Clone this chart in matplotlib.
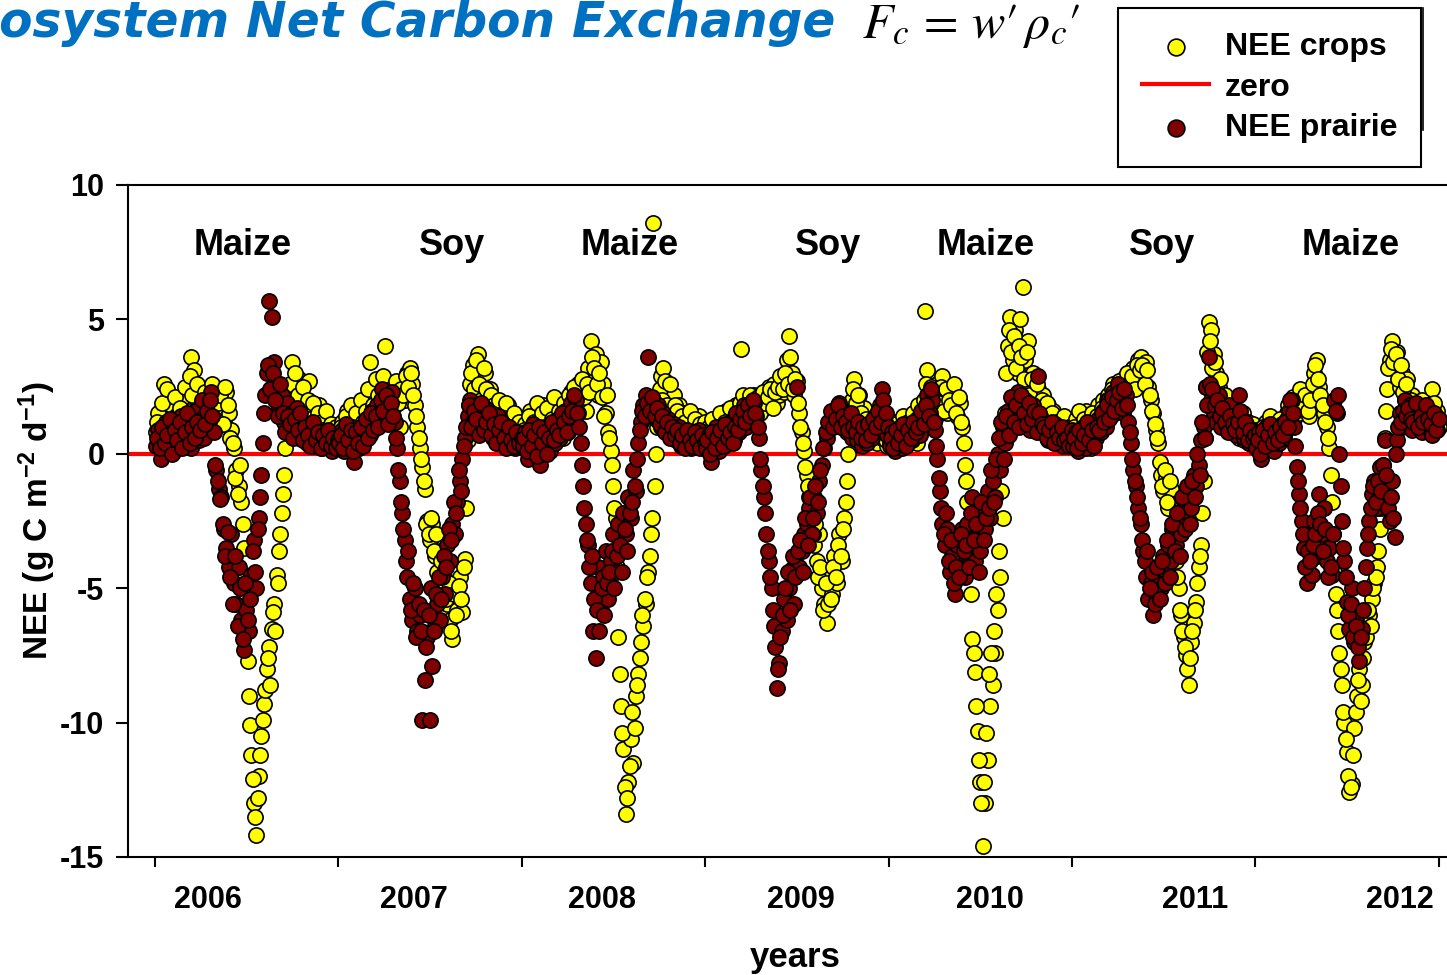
import numpy as np
import matplotlib.pyplot as plt
from matplotlib.lines import Line2D

plt.rcParams['font.family'] = ['Liberation Sans', 'DejaVu Sans']
plt.rcParams['axes.unicode_minus'] = False

# NEE (g C m-2 d-1) read every 5 days: "_a" lists start on day 2, "_b" lists on day 4.5
years = [2006, 2007, 2008, 2009, 2010, 2011, 2012]

crops_2006_a = [
    0.8, 1.5, 0.4, 2.6, 1.1, 0.6, 1.8, 0.9, 1.4, 0.5,
    2.0, 1.2, 0.7, 1.6, 3.6, 3.1, 1.0, 2.2, 0.6, 1.3,
    1.8, 2.4, 1.0, 2.2, 2.4, 1.6, 2.0, 1.2, 2.3, 1.5,
    0.9, 0.2, -0.6, -1.2, -1.8, -3.5, -6.5, -9.0, -11.2, -13.0,
    -14.2, -12.0, -10.5, -9.3, -8.0, -7.2, -6.5, -5.6, -4.5, -3.6,
    -2.2, -0.8, 0.8, 2.0, 3.4, 2.6, 1.8, 2.8, 1.2, 2.0,
    1.5, 2.7, 0.9, 1.6, 1.1, 1.8, 0.7, 1.3, 0.6, 1.0,
    0.5, 0.8, 0.4]
crops_2006_b = [
    1.2, 0.5, 1.9, 0.9, 2.4, 0.7, 1.3, 2.1, 0.4, 1.7,
    1.0, 2.5, 1.4, 2.9, 2.2, 1.6, 2.6, 0.9, 1.9, 2.3,
    1.4, 2.0, 2.6, 1.7, 1.9, 2.2, 1.1, 2.5, 1.8, 0.6,
    0.4, -0.9, -1.5, -0.4, -2.6, -4.6, -7.7, -10.1, -12.1, -13.5,
    -12.8, -11.2, -9.9, -8.8, -7.6, -8.6, -5.9, -6.6, -4.8, -3.0,
    -1.5, 0.2, 1.2, 2.6, 1.9, 3.0, 2.2, 1.4, 2.5, 1.0,
    2.0, 1.3, 1.9, 0.8, 1.5, 1.2, 0.9, 1.6, 0.5, 1.1,
    0.7, 1.0, 0.6]
prairie_2006_a = [
    0.3, 0.9, -0.2, 0.6, 1.2, 0.4, 0.8, 0.1, 1.0, 0.5,
    1.4, 0.3, 0.7, 1.1, 0.2, 0.9, 1.6, 0.5, 1.3, 0.6,
    1.9, 1.2, 2.3, 0.8, -0.6, -1.3, -1.6, -2.8, -3.5, -4.2,
    -3.0, -4.8, -5.6, -4.2, -6.2, -7.3, -5.8, -6.6, -4.5, -3.2,
    -5.0, -2.4, -0.8, 1.5, 3.0, 5.7, 5.1, 3.4, 2.6, 1.7,
    2.2, 1.2, 1.9, 0.8, 1.5, 1.0, 1.7, 0.6, 1.2, 0.9,
    0.4, 1.1, 0.7, 0.3, 0.9, 0.5, 0.2, 0.8, 0.4, 0.6,
    0.1, 0.5, 0.3]
prairie_2006_b = [
    0.6, 0.2, 1.0, 0.4, 0.7, 1.3, 0.0, 0.9, 0.5, 1.2,
    0.2, 0.8, 1.5, 0.4, 1.0, 0.6, 1.2, 0.9, 2.0, 1.1,
    1.6, 2.0, 1.4, -0.4, -1.0, -1.7, -2.6, -3.8, -2.9, -4.6,
    -5.6, -3.8, -6.4, -5.0, -6.9, -4.8, -6.2, -5.4, -3.6, -4.4,
    -2.8, -1.6, 0.4, 2.2, 3.3, 2.4, 3.0, 2.0, 1.4, 2.6,
    1.5, 0.8, 1.4, 1.1, 0.6, 1.3, 0.9, 1.5, 0.5, 1.0,
    0.7, 0.3, 1.2, 0.5, 0.8, 0.2, 0.7, 0.4, 0.9, 0.3,
    0.6, 0.2, 0.5]

crops_2007_a = [
    0.6, 1.2, 0.3, 1.6, 0.8, 0.4, 1.1, 0.2, 0.9, 1.5,
    0.7, 1.9, 3.4, 1.3, 2.1, 1.6, 2.4, 1.2, 4.0, 2.0,
    1.4, 2.6, 1.8, 2.3, 1.0, 2.7, 2.0, 3.0, 3.2, 2.6,
    1.8, 1.0, 0.2, -0.5, -1.3, -2.5, -3.2, -2.6, -3.8, -4.4,
    -3.6, -5.0, -4.2, -5.6, -6.2, -6.9, -5.4, -5.8, -4.6, -5.9,
    -3.9, 0.5, 2.6, 3.3, 2.0, 3.7, 2.8, 2.2, 3.0, 1.8,
    2.4, 1.5, 2.0, 1.2, 1.7, 0.9, 1.4, 1.8, 0.8, 1.2,
    0.6, 1.0, 0.5]
crops_2007_b = [
    1.0, 0.5, 1.4, 0.9, 1.8, 0.6, 1.5, 1.0, 2.0, 1.2,
    1.6, 2.4, 1.1, 1.8, 2.8, 2.2, 1.7, 2.9, 2.1, 1.6,
    2.2, 1.3, 2.7, 1.9, 2.4, 2.2, 2.9, 2.5, 3.0, 2.2,
    1.4, 0.6, -0.2, -1.0, -2.6, -3.0, -2.4, -3.6, -3.0, -4.8,
    -4.0, -4.6, -5.4, -4.8, -6.6, -5.2, -6.0, -4.9, -5.4, -4.2,
    -2.0, 1.8, 3.0, 2.4, 3.5, 2.6, 2.0, 3.2, 2.4, 1.5,
    2.2, 1.8, 1.1, 2.0, 1.4, 1.1, 1.9, 1.3, 0.9, 1.5,
    0.7, 1.2, 0.8]
prairie_2007_a = [
    0.4, 0.9, 0.1, 0.7, 0.3, 1.0, -0.3, 0.6, 0.2, 0.8,
    0.5, 1.2, 0.7, 1.6, 1.0, 1.8, 1.3, 2.4, 1.5, 2.0,
    1.6, 2.3, 1.2, 0.2, -1.0, -2.2, -3.2, -4.6, -5.4, -6.2,
    -5.0, -6.6, -6.0, -9.9, -8.4, -6.8, -9.9, -7.9, -6.4, -5.6,
    -6.2, -4.6, -5.2, -3.4, -4.0, -2.6, -3.0, -1.8, -1.0, -0.2,
    0.6, 1.4, 2.0, 1.2, 1.8, 0.9, 1.5, 1.1, 1.7, 0.8,
    1.3, 0.6, 1.0, 1.4, 0.5, 0.9, 0.3, 0.8, 0.4, 0.7,
    0.2, 0.6, 0.3]
prairie_2007_b = [
    0.7, 0.2, 1.1, 0.5, 0.9, 0.1, 0.8, 0.4, 1.0, 0.3,
    1.3, 0.6, 1.5, 0.9, 1.4, 1.0, 2.0, 1.6, 2.2, 1.1,
    1.9, 1.4, 0.6, -0.6, -1.8, -2.8, -4.0, -3.6, -5.8, -4.8,
    -6.8, -5.6, -6.6, -5.8, -7.2, -6.0, -5.0, -6.6, -5.2, -4.6,
    -5.4, -3.8, -4.2, -2.8, -3.2, -1.8, -2.2, -0.6, -1.4, 0.3,
    1.0, 1.8, 1.0, 1.6, 1.3, 0.7, 1.9, 0.9, 1.2, 1.5,
    0.7, 1.1, 0.4, 0.9, 1.2, 0.6, 0.2, 1.0, 0.5, 0.3,
    0.8, 0.4, 0.6]

crops_2008_a = [
    0.5, 1.1, 0.2, 1.6, 0.8, 0.3, 1.3, 0.6, 1.8, 0.4,
    1.0, 0.7, 1.5, 0.9, 2.0, 1.2, 0.6, 1.7, 1.1, 2.3,
    1.4, 2.0, 2.6, 1.8, 2.4, 1.6, 3.2, 4.2, 2.8, 3.7,
    2.2, 3.4, 2.6, 1.5, 0.8, 0.1, -1.2, -2.4, -6.8, -9.4,
    -11.0, -13.4, -12.2, -10.6, -11.5, -9.0, -8.2, -7.0, -6.4, -5.6,
    -4.4, -3.0, 8.6, 0.0, 1.8, 2.9, 3.2, 2.4, 2.0, 1.6,
    2.2, 1.2, 1.8, 0.9, 1.5, 0.7, 1.2, 0.5, 1.0, 0.6,
    1.4, 0.4, 0.8]
crops_2008_b = [
    0.9, 0.4, 1.4, 0.7, 1.2, 1.9, 0.5, 1.5, 1.0, 1.7,
    0.6, 1.3, 2.1, 1.1, 1.6, 0.8, 1.9, 1.4, 2.2, 1.7,
    2.5, 1.5, 2.0, 2.8, 2.1, 2.6, 2.3, 3.6, 3.2, 2.6,
    3.0, 2.1, 1.4, 2.2, 0.6, -0.4, -2.0, -4.2, -8.2, -10.4,
    -12.4, -12.8, -11.6, -9.6, -10.2, -8.6, -7.6, -6.0, -5.4, -4.6,
    -3.8, -2.4, -1.2, 1.0, 2.4, 2.0, 2.7, 1.8, 2.6, 1.4,
    1.8, 1.6, 0.9, 1.4, 1.2, 0.8, 1.6, 0.9, 1.3, 0.4,
    1.1, 0.8, 1.2]
prairie_2008_a = [
    0.3, 0.8, -0.2, 0.5, 1.1, 0.2, 0.7, -0.4, 0.6, 0.3,
    1.0, 0.1, 0.8, 0.4, 1.3, 0.6, 1.0, 1.6, 0.8, 1.9,
    1.2, 2.0, 1.5, 0.4, -1.2, -2.6, -3.4, -4.8, -6.6, -7.6,
    -4.2, -5.8, -4.6, -3.6, -5.4, -4.0, -3.0, -4.4, -2.6, -3.6,
    -2.2, -3.0, -1.6, -2.4, -0.6, -1.4, 0.4, 1.2, 1.8, 2.2,
    3.6, 1.6, 2.0, 1.3, 1.8, 1.0, 1.5, 0.9, 1.3, 0.7,
    1.1, 0.5, 1.0, 0.3, 0.8, 0.4, 0.7, 0.2, 0.6, 0.3,
    0.9, 0.4, 0.6]
prairie_2008_b = [
    0.6, 0.1, 0.9, 0.3, 0.7, -0.1, 1.0, 0.4, 0.8, 0.0,
    0.6, 1.2, 0.5, 0.9, 0.7, 1.5, 1.2, 0.8, 1.4, 1.6,
    2.2, 1.5, 1.0, -0.4, -2.0, -3.2, -4.2, -3.8, -5.4, -5.8,
    -6.6, -5.0, -6.0, -4.8, -4.4, -3.6, -5.0, -3.8, -3.4, -4.4,
    -2.8, -3.6, -2.2, -1.8, -1.2, -0.2, 0.9, 1.6, 1.4, 1.9,
    1.6, 2.1, 1.4, 1.7, 1.1, 1.4, 0.8, 1.2, 0.6, 1.0,
    0.7, 0.9, 0.4, 0.7, 0.2, 0.9, 0.5, 0.3, 0.8, 0.5,
    0.2, 0.7, 0.4]

crops_2009_a = [
    0.5, 1.0, 0.2, 1.3, 0.7, 0.3, 1.1, 0.6, 1.6, 0.9,
    1.4, 0.5, 1.8, 1.2, 3.9, 1.5, 2.0, 1.2, 1.8, 2.2,
    1.4, 2.0, 1.6, 2.3, 1.8, 2.5, 2.0, 2.6, 1.9, 2.2,
    2.8, 2.3, 3.5, 4.4, 3.0, 2.2, 2.7, 1.5, 0.8, 0.1,
    -0.8, -1.6, -2.6, -3.4, -4.0, -3.0, -5.0, -5.6, -6.3, -4.6,
    -5.2, -3.8, -4.8, -3.0, -4.0, -2.4, -1.0, 1.0, 2.0, 2.8,
    1.6, 2.2, 1.2, 1.7, 0.8, 1.3, 0.5, 1.0, 0.4, 1.2,
    0.6, 0.9, 0.3]
crops_2009_b = [
    0.8, 0.4, 1.3, 0.6, 1.0, 1.5, 0.7, 1.2, 0.9, 1.7,
    1.1, 1.4, 0.8, 1.9, 2.2, 1.8, 1.4, 2.2, 1.6, 1.9,
    2.1, 1.5, 2.3, 1.9, 2.1, 2.4, 1.7, 2.3, 2.5, 2.9,
    2.4, 3.0, 2.6, 3.6, 2.4, 2.8, 1.9, 1.0, 0.4, -0.5,
    -1.2, -2.2, -3.0, -2.6, -4.6, -4.2, -5.8, -4.8, -5.6, -5.4,
    -4.2, -4.6, -3.4, -3.8, -2.8, -1.8, 0.0, 1.6, 2.4, 1.9,
    2.2, 1.5, 1.0, 1.3, 1.1, 0.7, 1.0, 0.8, 1.4, 0.7,
    1.0, 0.5, 0.8]
prairie_2009_a = [
    0.2, 0.7, -0.3, 0.5, 1.0, 0.1, 0.6, 0.3, 0.9, 0.4,
    1.2, 0.6, 1.5, 0.8, 1.3, 1.8, 1.0, 1.6, 1.2, 1.9,
    1.4, 0.6, -0.6, -1.6, -3.0, -4.0, -5.0, -6.4, -8.7, -7.8,
    -6.6, -5.4, -6.2, -5.0, -4.3, -5.6, 2.5, -4.2, -3.6, -3.0,
    -2.6, -2.0, -3.0, -1.6, -2.2, -1.0, -0.4, 0.2, 0.6, 1.0,
    1.4, 1.6, 1.2, 1.9, 1.0, 1.5, 0.8, 1.3, 0.6, 1.1,
    0.5, 0.9, 0.3, 0.8, 0.4, 1.0, 0.6, 1.4, 0.9, 1.8,
    2.4, 1.2, 0.7]
prairie_2009_b = [
    0.5, 0.0, 0.8, 0.2, 0.6, 0.9, 0.3, 1.1, 0.6, 0.8,
    0.4, 1.0, 0.9, 1.3, 1.6, 1.2, 1.8, 1.4, 2.0, 1.5,
    1.0, -0.2, -1.2, -2.2, -3.6, -4.6, -5.8, -7.2, -8.0, -6.8,
    -6.0, -5.0, -4.4, -5.8, -3.8, -4.6, -3.6, -3.2, -4.4, -2.4,
    -3.4, -1.6, -2.4, -1.2, -1.8, -0.6, 0.2, 0.8, 1.2, 1.6,
    1.0, 1.3, 1.8, 1.0, 1.4, 1.2, 0.9, 1.5, 1.0, 0.8,
    1.2, 0.6, 1.0, 0.5, 1.1, 0.7, 1.3, 1.0, 1.6, 1.2,
    2.0, 1.5, 1.0]

crops_2010_a = [
    0.4, 0.9, 0.2, 1.2, 0.6, 0.3, 1.0, 0.5, 1.4, 0.8,
    1.1, 0.4, 1.6, 1.2, 5.3, 3.1, 1.6, 2.2, 1.3, 2.6,
    1.8, 2.9, 2.0, 1.5, 2.4, 1.7, 2.2, 1.4, 1.9, 1.0,
    -0.4, -1.8, -4.0, -6.9, -8.1, -10.3, -12.2, -14.6, -13.0, -11.4,
    -9.4, -8.6, -7.4, -5.8, -4.6, -2.4, 1.5, 4.0, 5.1, 3.5,
    4.6, 3.0, 5.0, 6.2, 3.5, 4.2, 2.5, 3.0, 2.0, 2.4,
    1.6, 2.2, 1.3, 1.8, 1.0, 1.6, 0.8, 1.3, 0.6, 1.1,
    0.5, 0.9, 1.2]
crops_2010_b = [
    0.7, 0.3, 1.1, 0.5, 0.9, 1.4, 0.6, 1.2, 0.9, 1.5,
    1.0, 1.8, 1.3, 2.0, 2.6, 2.0, 2.5, 1.7, 2.3, 1.9,
    2.5, 1.6, 2.4, 2.0, 1.8, 2.6, 1.5, 2.1, 1.2, 0.4,
    -1.0, -2.8, -5.2, -7.4, -9.4, -11.4, -13.0, -12.2, -10.4, -8.2,
    -7.4, -6.6, -5.2, -3.6, -1.4, 0.6, 3.0, 4.6, 3.8, 4.4,
    3.2, 4.0, 3.6, 2.8, 3.8, 2.2, 2.8, 1.8, 2.6, 1.5,
    2.0, 1.4, 1.9, 1.0, 1.5, 0.7, 1.2, 1.0, 0.8, 1.4,
    0.7, 1.0, 0.6]
prairie_2010_a = [
    0.3, 0.8, 0.1, 0.6, 1.0, 0.2, 0.7, 0.4, 1.1, 0.5,
    0.9, 1.3, 0.7, 1.5, 1.2, 2.2, 1.5, 2.0, 0.9, -0.2,
    -1.4, -2.6, -3.4, -2.8, -4.4, -3.8, -5.2, -3.4, -4.2, -2.8,
    -4.6, -2.6, -3.8, -1.6, -4.0, -3.0, -3.6, -2.0, -2.8, -1.4,
    -2.4, -1.0, -1.6, 0.0, -0.6, 1.0, 0.4, 1.6, 1.0, 2.0,
    1.4, 2.3, 1.7, 1.2, 2.0, 1.5, 0.9, 1.8, 1.2, 2.9,
    1.4, 0.8, 1.2, 0.5, 1.0, 0.6, 1.1, 0.4, 0.9, 0.3,
    0.8, 0.5, 0.7]
prairie_2010_b = [
    0.6, 0.2, 0.9, 0.4, 0.7, 1.1, 0.3, 0.9, 0.6, 1.2,
    0.8, 1.0, 1.6, 1.1, 1.8, 1.4, 2.4, 1.2, 0.3, -0.9,
    -2.0, -3.0, -2.2, -4.0, -3.2, -4.8, -4.2, -4.6, -3.0, -3.6,
    -3.4, -4.2, -2.2, -3.2, -2.6, -4.4, -1.8, -3.2, -2.4, -2.0,
    -0.6, -1.8, -0.2, 0.6, 1.2, -0.2, 1.4, 0.7, 2.1, 1.2,
    1.8, 1.0, 2.2, 1.5, 1.1, 1.9, 1.3, 1.6, 0.8, 1.5,
    1.1, 1.0, 0.6, 0.9, 1.2, 0.4, 0.8, 0.6, 1.0, 0.5,
    0.6, 0.3, 0.9]

crops_2011_a = [
    0.6, 1.3, 0.3, 1.0, 0.5, 1.6, 0.8, 0.2, 1.2, 0.7,
    1.8, 1.1, 2.0, 1.4, 2.2, 1.6, 2.6, 1.9, 2.4, 2.0,
    2.8, 2.2, 3.0, 2.4, 3.2, 2.7, 3.5, 3.6, 3.0, 3.4,
    2.5, 2.0, 1.5, 0.9, 0.4, -0.8, -1.4, -0.9, -2.0, -1.3,
    -3.5, -4.0, -5.0, -6.0, -6.8, -7.5, -8.6, -7.0, -6.3, -5.5,
    -4.2, -3.4, -1.0, 2.5, 4.9, 4.6, 3.7, 3.0, 2.5, 2.0,
    1.6, 1.9, 1.2, 1.6, 0.9, 1.3, 0.6, 1.1, 0.5, 0.9,
    0.4, 0.8, 0.6]
crops_2011_b = [
    1.0, 0.5, 1.6, 0.8, 1.3, 0.4, 1.1, 1.5, 0.6, 1.4,
    1.0, 1.7, 1.3, 2.0, 1.5, 2.4, 1.8, 2.2, 2.7, 2.1,
    2.5, 3.0, 2.6, 2.9, 2.4, 3.3, 3.1, 3.3, 2.6, 3.1,
    2.2, 1.6, 1.1, 0.6, -0.3, -1.2, -0.6, -1.8, -1.0, -2.8,
    -3.8, -4.6, -5.8, -6.6, -7.2, -8.0, -7.6, -6.6, -5.8, -4.8,
    -3.8, -2.2, 0.6, 3.8, 4.2, 3.2, 3.4, 2.4, 2.8, 1.6,
    2.2, 1.4, 1.7, 1.0, 1.4, 1.2, 0.8, 1.5, 0.9, 1.2,
    0.7, 1.1, 0.9]
prairie_2011_a = [
    0.3, 0.8, 0.1, 0.6, 1.0, 0.2, 0.7, 0.4, 1.1, 0.6,
    1.3, 0.8, 1.6, 1.0, 2.0, 1.4, 2.3, 1.7, 2.6, 2.0,
    1.5, 2.2, 1.2, 0.4, -0.6, -1.2, -2.0, -2.6, -3.6, -4.6,
    -5.4, -4.8, -6.0, -5.2, -4.6, -5.0, -3.8, -4.4, -3.4, -4.0,
    -2.8, -3.4, -2.4, -3.0, -1.8, -2.4, -1.4, -2.0, -0.8, -1.2,
    -0.4, 0.5, 1.0, 2.5, 3.6, 2.0, 1.5, 1.2, 2.2, 1.0,
    1.5, 1.1, 1.8, 0.8, 1.4, 0.7, 2.2, 1.0, 0.6, 1.1,
    0.4, 0.8, 0.5]
prairie_2011_b = [
    0.6, 0.2, 0.9, 0.4, 0.7, 1.2, 0.5, 0.9, 0.3, 1.0,
    0.9, 1.5, 1.2, 1.8, 1.3, 2.1, 1.6, 2.0, 2.3, 1.7,
    2.4, 1.8, 0.8, -0.2, -1.0, -1.6, -2.4, -3.2, -4.0, -3.6,
    -5.0, -4.4, -5.6, -4.2, -5.4, -4.0, -4.8, -3.2, -4.6, -2.6,
    -3.6, -2.2, -3.8, -1.6, -2.8, -1.2, -2.6, -1.0, -1.6, 0.0,
    -0.8, 1.2, 0.6, 1.8, 2.6, 2.4, 1.8, 2.0, 1.4, 1.7,
    1.2, 0.8, 1.4, 1.1, 0.9, 1.2, 1.6, 0.8, 1.2, 0.5,
    0.9, 0.6, 0.7]

crops_2012_a = [
    0.3, 0.9, 0.1, 0.7, 1.2, 0.4, 0.8, 0.2, 1.0, 0.5,
    1.3, 0.7, 1.5, 1.0, 1.8, 1.3, 2.0, 1.5, 2.2, 1.7,
    2.0, 1.4, 2.3, 3.0, 3.5, 2.5, 2.0, 1.5, 1.0, 0.2,
    -1.8, -4.4, -5.8, -7.4, -8.6, -10.0, -11.1, -12.6, -12.3, -10.2,
    -9.0, -8.0, -8.6, -7.0, -6.4, -6.0, -5.4, -4.8, -4.2, -2.8,
    -1.2, 0.6, 2.4, 3.5, 4.2, 3.2, 3.8, 2.5, 3.0, 2.0,
    2.8, 1.6, 2.2, 1.3, 1.9, 1.1, 2.0, 1.4, 1.7, 1.0,
    2.4, 1.2, 1.6]
crops_2012_b = [
    0.6, 0.2, 1.0, 0.5, 0.8, 1.4, 0.6, 1.1, 0.7, 1.3,
    0.9, 1.2, 1.8, 1.5, 2.1, 1.6, 1.8, 2.4, 1.9, 2.2,
    1.6, 2.0, 2.6, 3.3, 2.8, 2.2, 1.8, 1.2, 0.6, -0.8,
    -3.0, -5.2, -6.6, -8.0, -9.6, -10.6, -12.0, -12.4, -11.2, -9.6,
    -8.4, -9.2, -7.6, -6.8, -5.8, -6.4, -5.0, -4.6, -3.6, -2.0,
    -0.4, 1.6, 3.2, 3.9, 3.4, 3.7, 2.8, 3.3, 2.3, 2.6,
    1.8, 2.0, 1.5, 1.8, 1.0, 1.6, 1.3, 1.8, 1.1, 1.5,
    1.9, 1.4, 1.0]
prairie_2012_a = [
    0.2, 0.8, -0.2, 0.6, 1.0, 0.3, 0.7, 0.1, 0.9, 0.4,
    1.1, 0.6, 1.3, 1.6, 2.0, 1.0, -0.5, -1.5, -2.5, -3.5,
    -4.8, -3.0, -4.5, -2.5, -3.8, -1.5, -3.0, -2.0, -4.0, -3.5,
    -4.5, 2.0, 1.5, 0.0, -2.5, -4.0, -5.5, -6.5, -5.0, -7.0,
    -6.0, -7.7, -6.5, -5.0, -3.5, -2.5, -1.5, -1.0, -2.0, -0.5,
    -1.5, 0.5, -1.0, -2.5, -1.0, -3.1, 0.5, 1.5, 1.0, 2.0,
    1.2, 1.8, 0.9, 1.5, 1.1, 1.7, 0.8, 1.4, 1.0, 1.6,
    0.7, 1.2, 0.9]
prairie_2012_b = [
    0.5, 0.0, 0.9, 0.3, 0.7, 1.1, 0.4, 0.8, 0.5, 1.0,
    0.7, 1.2, 1.0, 2.0, 1.5, 0.3, -1.0, -2.0, -3.0, -4.2,
    -3.6, -4.0, -3.4, -3.0, -2.2, -2.6, -3.6, -2.8, -4.6, -4.2,
    -3.0, 1.6, 2.2, -1.2, -3.5, -4.6, -6.0, -5.6, -6.8, -6.4,
    -7.2, -6.8, -5.8, -4.2, -3.0, -2.0, -1.2, -1.8, -1.0, -1.4,
    -0.4, -0.8, -2.0, -1.6, -2.4, 0.0, 1.0, 1.2, 1.6, 1.4,
    1.7, 1.3, 1.2, 1.9, 1.0, 1.4, 1.2, 1.8, 1.3, 1.1,
    1.5, 0.9, 1.3]

crops_a = [crops_2006_a, crops_2007_a, crops_2008_a, crops_2009_a,
           crops_2010_a, crops_2011_a, crops_2012_a]
crops_b = [crops_2006_b, crops_2007_b, crops_2008_b, crops_2009_b,
           crops_2010_b, crops_2011_b, crops_2012_b]
prairie_a = [prairie_2006_a, prairie_2007_a, prairie_2008_a, prairie_2009_a,
             prairie_2010_a, prairie_2011_a, prairie_2012_a]
prairie_b = [prairie_2006_b, prairie_2007_b, prairie_2008_b, prairie_2009_b,
             prairie_2010_b, prairie_2011_b, prairie_2012_b]

crop_names = ['Maize', 'Soy', 'Maize', 'Soy', 'Maize', 'Soy', 'Maize']
crop_label_x = [2006.48, 2007.62, 2008.59, 2009.67, 2010.53, 2011.49, 2012.52]
year_labels = ['2006', '2007', '2008', '2009', '2010', '2011', '2012']
year_label_x = [2006.29, 2007.41, 2008.44, 2009.52, 2010.55, 2011.67, 2012.79]


def to_series(lists_a, lists_b):
    """ decimal-year time and value arrays from the 5-day readings """
    t, v = [], []
    for year, a, b in zip(years, lists_a, lists_b):
        t.append(year + (2.0 + 5 * np.arange(len(a))) / 365.0)
        t.append(year + (4.5 + 5 * np.arange(len(b))) / 365.0)
        v.extend([a, b])
    return np.concatenate(t), np.concatenate(v)


t_crops, v_crops = to_series(crops_a, crops_b)
t_prairie, v_prairie = to_series(prairie_a, prairie_b)

W, H = 1447, 975
fig = plt.figure(figsize=(W / 100, H / 100), dpi=100)
ax = fig.add_axes([128 / W, 118 / H, 1324 / W, 672 / H])

sc_crops = ax.scatter(t_crops, v_crops, s=120, c='#FFFF00', edgecolors='black',
                      linewidths=1.2, zorder=2)
zero = ax.axhline(0, color='#FF0000', lw=3, zorder=1)
sc_prairie = ax.scatter(t_prairie, v_prairie, s=120, c='#800000', edgecolors='black',
                        linewidths=1.2, zorder=3)

ax.set_xlim(2005.853, 2013.072)
ax.set_ylim(-15, 10)

for name, x in zip(crop_names, crop_label_x):
    ax.text(x, 7.75, name, ha='center', va='center', fontsize=26, fontweight='bold')

# axes frame and ticks
for side in ['left', 'bottom', 'top']:
    ax.spines[side].set_linewidth(1.5)
ax.spines['right'].set_visible(False)

ax.set_xticks(range(2006, 2014))
ax.set_xticklabels([])
ax.set_xticks(year_label_x, labels=year_labels, minor=True)
ax.tick_params(axis='x', which='major', direction='out', length=7, width=1.5)
ax.tick_params(axis='x', which='minor', length=0, pad=20, labelsize=22)
ax.set_yticks([-15, -10, -5, 0, 5, 10])
ax.tick_params(axis='y', direction='out', length=9, width=1.5, pad=8, labelsize=22)
for lab in ax.get_xticklabels(minor=True) + ax.get_yticklabels():
    lab.set_fontweight('bold')

ax.set_ylabel('NEE (g C m$\\mathregular{^{-2}}$ d$\\mathregular{^{-1}}$)',
              fontsize=24, fontweight='bold', va='center')
ax.yaxis.set_label_coords(-0.0687, 0.5)
ax.set_xlabel('years', fontsize=25, fontweight='bold', va='center')
ax.xaxis.set_label_coords(0.504, -0.150)

# heading, partly off the page on the left
fig.text(835 / W, 1 - 37 / H, 'Ecosystem Net Carbon Exchange', ha='right',
         va='baseline', fontsize=35, fontweight='bold', fontstyle='italic',
         family='DejaVu Sans', color='#0070C0')
fig.text(862 / W, 1 - 38 / H, r"$F_c\,=\,w{\prime}\,\rho_c{\prime}$", ha='left',
         va='baseline', fontsize=36, math_fontfamily='stix')

leg = fig.legend(handles=[sc_crops, zero, sc_prairie],
                 labels=['NEE crops', 'zero', 'NEE prairie'],
                 loc='upper left', bbox_to_anchor=(1118 / W, 1 - 8 / H),
                 borderaxespad=0, fancybox=False, edgecolor='black', framealpha=1,
                 prop={'weight': 'bold', 'size': 23}, handlelength=2.1,
                 handletextpad=0.5, labelspacing=0.33, borderpad=0.75,
                 markerscale=1.1)
leg.get_frame().set_linewidth(1.5)
fig.add_artist(Line2D([1423 / W, 1423 / W], [1 - 8 / H, 1 - 130 / H],
                      transform=fig.transFigure, color='black', lw=1.2))

fig.savefig('out.png', dpi=100)
